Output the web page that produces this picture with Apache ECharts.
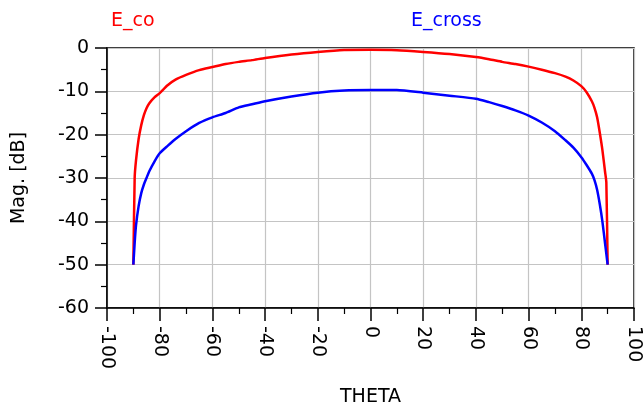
<!DOCTYPE html>
<html>
<head>
<meta charset="utf-8">
<script src="https://cdn.jsdelivr.net/npm/echarts@6/dist/echarts.min.js"></script>
<style>
	html, body { margin: 0; padding: 0; background: #fff; }
	#chart { width: 644px; height: 412px; }
</style>
</head>
<body>
<div id="chart"></div>
<script>
	// theta values (deg), shared by both curves
	var theta = [-90, -89.5, -89, -88, -87, -86, -85, -84, -82, -80, -77, -74, -70, -65, -60, -55, -50, -45, -40, -30, -20, -10,
		0, 10, 20, 30, 40, 45, 50, 55, 60, 65, 70, 74, 77, 80, 82, 84, 85, 86, 87, 88, 89, 89.5, 90];
	// E_co magnitude [dB]
	var eCo = [-50, -30, -26, -21, -17.8, -15.5, -13.9, -12.8, -11.4, -10.4, -8.6, -7.3, -6.2, -5.1, -4.4, -3.7, -3.2, -2.8, -2.3, -1.5, -0.9, -0.45,
		-0.4, -0.5, -0.9, -1.4, -2.1, -2.6, -3.2, -3.7, -4.3, -5.0, -5.8, -6.6, -7.5, -8.8, -10.2, -12.3, -13.8, -16, -19.5, -23.5, -28.5, -31, -50];
	// E_cross magnitude [dB]
	var eCross = [-50, -45, -41, -36.5, -33.5, -31.5, -30, -28.5, -26.2, -24.3, -22.6, -21, -19.2, -17.3, -16, -15, -13.7, -13, -12.3, -11.2, -10.3, -9.8,
		-9.7, -9.7, -10.3, -11, -11.7, -12.5, -13.4, -14.4, -15.6, -17.2, -19.2, -21.3, -23.0, -25.2, -27.0, -29.0, -30.5, -32.7, -36, -40, -45, -47.5, -50];

	function pairs(xs, ys) {
		var out = [];
		for (var i = 0; i < xs.length; i++) out.push([xs[i], ys[i]]);
		return out;
	}

	var font = 'DejaVu Sans, Liberation Sans, sans-serif';
	var fs = 19;
	var myChart = echarts.init(document.getElementById('chart'));
	var option = {
		animation: false,
		textStyle: { fontFamily: font },
		title: [
			{ text: 'E_co', left: 106, top: 7, textStyle: { color: '#ff0000', fontSize: fs, fontWeight: 'normal', fontFamily: font } },
			{ text: 'E_cross', left: 406, top: 7, textStyle: { color: '#0000ff', fontSize: fs, fontWeight: 'normal', fontFamily: font } }
		],
		grid: {
			left: 107, right: 10, top: 48, bottom: 100,
			show: true, borderColor: '#000', borderWidth: 1.5
		},
		xAxis: {
			type: 'value',
			min: -100, max: 100, interval: 20,
			name: 'THETA', nameLocation: 'middle', nameGap: 80,
			nameTextStyle: { color: '#000', fontSize: fs, fontFamily: font },
			axisLine: { onZero: false, lineStyle: { color: '#000', width: 1.5 } },
			axisTick: { show: true, length: 13, lineStyle: { color: '#000', width: 1.5 } },
			minorTick: { show: true, splitNumber: 2, length: 6, lineStyle: { color: '#000', width: 1.2 } },
			axisLabel: { rotate: -90, color: '#000', fontSize: fs, margin: 18, fontFamily: font },
			splitLine: { show: true, lineStyle: { color: '#c4c4c4', width: 1.2 } }
		},
		yAxis: {
			type: 'value',
			min: -60, max: 0, interval: 10,
			name: 'Mag. [dB]', nameLocation: 'middle', nameGap: 78,
			nameTextStyle: { color: '#000', fontSize: fs, fontFamily: font },
			axisLine: { onZero: false, lineStyle: { color: '#000', width: 1.5 } },
			axisTick: { show: true, length: 12, lineStyle: { color: '#000', width: 1.5 } },
			minorTick: { show: true, splitNumber: 2, length: 6, lineStyle: { color: '#000', width: 1.2 } },
			axisLabel: { color: '#000', fontSize: fs, margin: 18, fontFamily: font },
			splitLine: { show: true, lineStyle: { color: '#c4c4c4', width: 1.2 } }
		},
		series: [
			{
				name: 'E_co', type: 'line', data: pairs(theta, eCo), smooth: 0.2,
				showSymbol: false, lineStyle: { color: '#ff0000', width: 2.5 }, itemStyle: { color: '#ff0000' }
			},
			{
				name: 'E_cross', type: 'line', data: pairs(theta, eCross), smooth: 0.2,
				showSymbol: false, lineStyle: { color: '#0000ff', width: 2.5 }, itemStyle: { color: '#0000ff' }
			}
		]
	};
	myChart.setOption(option);
</script>
</body>
</html>
